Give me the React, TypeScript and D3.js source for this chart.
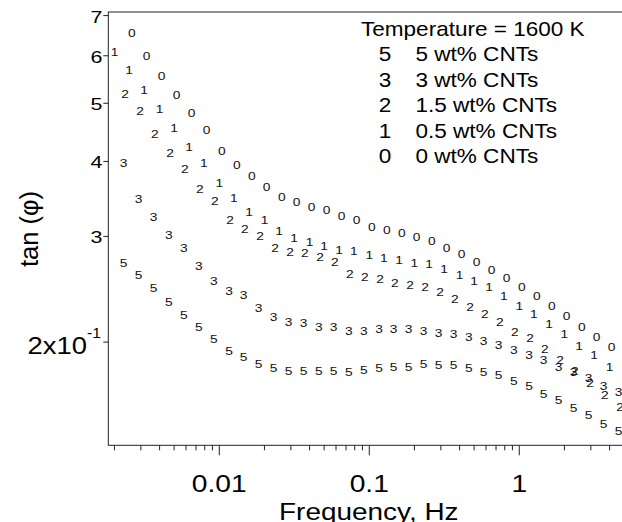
import React, { useEffect, useRef } from 'react';
import * as d3 from 'd3';

// frequency (Hz) and tan(phi), one array per series
const freq0 = [0.00261, 0.00328, 0.00413, 0.0052, 0.00654, 0.00824, 0.0104, 0.0131, 0.0165, 0.0207, 0.0261,
  0.0328, 0.0413, 0.052, 0.0654, 0.0824, 0.104, 0.131, 0.165, 0.207, 0.261, 0.328, 0.413, 0.52, 0.654,
  0.824, 1.04, 1.31, 1.65, 2.07, 2.61, 3.28, 4.13];
const tan0 = [0.654, 0.600, 0.556, 0.517, 0.481, 0.451, 0.417, 0.394, 0.378, 0.362, 0.349, 0.342, 0.336,
  0.332, 0.324, 0.319, 0.311, 0.307, 0.304, 0.299, 0.295, 0.287, 0.280, 0.272, 0.264, 0.256, 0.247,
  0.239, 0.230, 0.221, 0.212, 0.204, 0.196];

const freq1 = [0.002, 0.0025, 0.00315, 0.004, 0.005, 0.0063, 0.0079, 0.01, 0.0125, 0.0158, 0.02, 0.025,
  0.0315, 0.04, 0.05, 0.063, 0.079, 0.1, 0.125, 0.158, 0.2, 0.25, 0.315, 0.4, 0.5, 0.63, 0.79, 1, 1.25,
  1.58, 2, 2.5, 3.15, 4];
const tan1 = [0.609, 0.567, 0.526, 0.489, 0.454, 0.423, 0.397, 0.368, 0.348, 0.329, 0.319, 0.306, 0.298,
  0.294, 0.289, 0.285, 0.284, 0.279, 0.276, 0.274, 0.271, 0.270, 0.265, 0.259, 0.253, 0.247, 0.239,
  0.230, 0.223, 0.214, 0.206, 0.197, 0.190, 0.182];

const freq2 = [0.00235, 0.00296, 0.00372, 0.00469, 0.0059, 0.00743, 0.00935, 0.0118, 0.0148, 0.0187,
  0.0235, 0.0296, 0.0372, 0.0469, 0.059, 0.0743, 0.0935, 0.118, 0.148, 0.187, 0.235, 0.296, 0.372,
  0.469, 0.59, 0.743, 0.935, 1.18, 1.48, 1.87, 2.35, 2.96, 3.72, 4.69];
const tan2 = [0.519, 0.486, 0.444, 0.413, 0.388, 0.360, 0.343, 0.320, 0.309, 0.300, 0.287, 0.283, 0.281,
  0.277, 0.272, 0.260, 0.257, 0.255, 0.251, 0.249, 0.247, 0.242, 0.236, 0.229, 0.223, 0.216, 0.208,
  0.203, 0.195, 0.187, 0.179, 0.171, 0.163, 0.156];

const freq35 = [0.0023, 0.0029, 0.00365, 0.0046, 0.00579, 0.00729, 0.00918, 0.0116, 0.0145, 0.0183,
  0.023, 0.029, 0.0365, 0.046, 0.0579, 0.0729, 0.0918, 0.116, 0.145, 0.183, 0.23, 0.29, 0.365, 0.46,
  0.579, 0.729, 0.918, 1.16, 1.45, 1.83, 2.3, 2.9, 3.65, 4.6];
const tan3 = [0.397, 0.346, 0.323, 0.302, 0.287, 0.268, 0.253, 0.243, 0.240, 0.228, 0.220, 0.216, 0.215,
  0.212, 0.212, 0.209, 0.209, 0.210, 0.210, 0.210, 0.209, 0.207, 0.206, 0.204, 0.201, 0.198, 0.194,
  0.190, 0.187, 0.182, 0.178, 0.174, 0.169, 0.165];
const tan5 = [0.271, 0.259, 0.246, 0.233, 0.222, 0.212, 0.202, 0.193, 0.189, 0.184, 0.181, 0.179, 0.179,
  0.179, 0.179, 0.178, 0.180, 0.181, 0.182, 0.182, 0.184, 0.183, 0.183, 0.181, 0.178, 0.176, 0.172,
  0.169, 0.164, 0.160, 0.155, 0.151, 0.146, 0.142];

const legendTitle = 'Temperature = 1600 K';
const legendSymbols = ['5', '3', '2', '1', '0'];
const legendNames = ['5 wt% CNTs', '3 wt% CNTs', '1.5 wt% CNTs', '0.5 wt% CNTs', '0 wt% CNTs'];

const xMajorTicks = [0.01, 0.1, 1];
const xMajorLabels = ['0.01', '0.1', '1'];
const yMinorTicks = [0.3, 0.4, 0.5, 0.6, 0.7];
const yMinorLabels = ['3', '4', '5', '6', '7'];

const font = 'Liberation Sans, Arial, sans-serif';

export default function App() {
  const svgRef = useRef<SVGSVGElement>(null);

  useEffect(() => {
    const svg = d3.select(svgRef.current);
    svg.selectAll('*').remove();

    const left = 108.3, top = 12, bottom = 445.3;
    const x = d3.scaleLog().domain([0.00182, 6.4]).range([left, 640.2]);
    const y = d3.scaleLog().domain([0.1346, 0.7097]).range([bottom, top]);

    const series = [
      { sym: '5', f: freq35, v: tan5 },
      { sym: '3', f: freq35, v: tan3 },
      { sym: '2', f: freq2, v: tan2 },
      { sym: '1', f: freq1, v: tan1 },
      { sym: '0', f: freq0, v: tan0 },
    ];

    const line = '#222';

    // frame
    svg.append('rect')
      .attr('x', left).attr('y', top)
      .attr('width', 640 - left).attr('height', bottom - top)
      .attr('fill', 'none').attr('stroke', line).attr('stroke-width', 1);

    // x ticks
    const xMinor = x.ticks().filter(t => !xMajorTicks.some(m => Math.abs(m - t) < 1e-9));
    svg.append('g').selectAll('line').data(xMinor).enter().append('line')
      .attr('x1', d => x(d)).attr('x2', d => x(d))
      .attr('y1', bottom).attr('y2', bottom + 5)
      .attr('stroke', line);
    svg.append('g').selectAll('line').data(xMajorTicks).enter().append('line')
      .attr('x1', d => x(d)).attr('x2', d => x(d))
      .attr('y1', bottom).attr('y2', bottom + 10)
      .attr('stroke', line);
    svg.append('g').selectAll('text').data(xMajorTicks).enter().append('text')
      .attr('transform', d => `translate(${x(d)},491.5) scale(1.15,1)`)
      .attr('text-anchor', 'middle')
      .style('font-family', font).style('font-size', '24.5px')
      .text((d, i) => xMajorLabels[i]);

    // y ticks
    svg.append('g').selectAll('line').data([0.2, ...yMinorTicks]).enter().append('line')
      .attr('x1', left - 5).attr('x2', left)
      .attr('y1', d => y(d)).attr('y2', d => y(d))
      .attr('stroke', line);
    svg.append('g').selectAll('text').data(yMinorTicks).enter().append('text')
      .attr('transform', d => `translate(102.5,${y(d) + 7}) scale(1.3,1)`)
      .attr('text-anchor', 'end')
      .style('font-family', font).style('font-size', '16.5px')
      .text((d, i) => yMinorLabels[i]);

    const major = svg.append('text')
      .attr('transform', `translate(101,${y(0.2) + 12.3}) scale(1.12,1)`)
      .attr('text-anchor', 'end')
      .style('font-family', font).style('font-size', '24.5px');
    major.append('tspan').text('2x10');
    major.append('tspan').attr('dy', -16).style('font-size', '14px').text('-1');

    // axis titles
    svg.append('text')
      .attr('transform', 'translate(368.8,520) scale(1.14,1)')
      .attr('text-anchor', 'middle')
      .style('font-family', font).style('font-size', '24.5px')
      .text('Frequency, Hz');
    svg.append('text')
      .attr('transform', 'translate(38,229) rotate(-90)')
      .attr('text-anchor', 'middle')
      .style('font-family', font).style('font-size', '25.5px')
      .text('tan (φ)');

    // data markers: each point drawn as its series digit
    series.forEach(s => {
      svg.append('g').selectAll('text').data(s.f).enter().append('text')
        .attr('transform', (d, i) => `translate(${x(d)},${y(s.v[i])}) scale(1.25,1)`)
        .attr('text-anchor', 'middle')
        .attr('dy', '0.36em')
        .style('font-family', font).style('font-size', '11px')
        .attr('fill', '#111')
        .text(s.sym);
    });

    // legend
    svg.append('text')
      .attr('transform', 'translate(361,36) scale(1.1,1)')
      .style('font-family', font).style('font-size', '20.5px')
      .text(legendTitle);
    const rows = svg.append('g').selectAll('g').data(legendNames).enter().append('g')
      .attr('transform', (d, i) => `translate(0,${61.3 + i * 25.5})`);
    rows.append('text')
      .attr('transform', 'translate(385,0) scale(1.1,1)')
      .attr('text-anchor', 'middle')
      .style('font-family', font).style('font-size', '20.5px')
      .text((d, i) => legendSymbols[i]);
    rows.append('text')
      .attr('transform', 'translate(415.5,0) scale(1.1,1)')
      .style('font-family', font).style('font-size', '20.5px')
      .text(d => d);
  }, []);

  return (
    <svg ref={svgRef} width={622} height={522}
      style={{ position: 'absolute', left: 0, top: 0, background: '#fff' }} />
  );
}
